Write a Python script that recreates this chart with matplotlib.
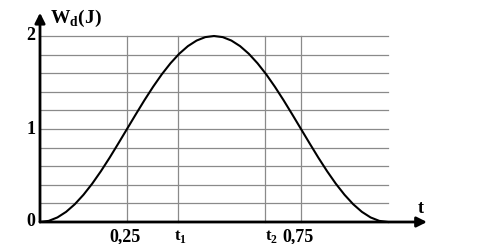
import matplotlib
matplotlib.use("Agg")
import matplotlib.pyplot as plt

plt.rcParams['mathtext.fontset'] = 'custom'
plt.rcParams['mathtext.rm'] = 'Liberation Serif:bold'
plt.rcParams['mathtext.bf'] = 'Liberation Serif:bold'

# Curve values
t_vals = [0.0, 0.025, 0.05, 0.075, 0.1, 0.125, 0.15, 0.175, 0.2, 0.225,
          0.25, 0.275, 0.3, 0.325, 0.35, 0.375, 0.4, 0.425, 0.45, 0.475,
          0.5, 0.525, 0.55, 0.575, 0.6, 0.625, 0.65, 0.675, 0.7, 0.725,
          0.75, 0.775, 0.8, 0.825, 0.85, 0.875, 0.9, 0.925, 0.95, 0.975, 1.0]
w_vals = [0.0, 0.012, 0.049, 0.109, 0.191, 0.293, 0.412, 0.546, 0.691, 0.844,
          1.0, 1.156, 1.309, 1.454, 1.588, 1.707, 1.809, 1.891, 1.951, 1.988,
          2.0, 1.988, 1.951, 1.891, 1.809, 1.707, 1.588, 1.454, 1.309, 1.156,
          1.0, 0.844, 0.691, 0.546, 0.412, 0.293, 0.191, 0.109, 0.049, 0.012, 0.0]

h_grid = [0.2, 0.4, 0.6, 0.8, 1.0, 1.2, 1.4, 1.6, 1.8, 2.0]
v_grid = [0.25, 0.397, 0.647, 0.75]
x_tick_labels = ["0,25", r"t$_\mathbf{1}$", r"t$_\mathbf{2}$", "0,75"]
y_ticks = [0, 1, 2]
y_tick_labels = ["0", "1", "2"]

fig = plt.figure(figsize=(4.82, 2.44), dpi=100)
ax = fig.add_axes([30/482, 9/244, 410/482, 225/244])
ax.set_xlim(-10/348, 400/348)
ax.set_ylim(-13/93, 212/93)
ax.axis('off')

grid_color = '#8a8a8a'
for h in h_grid:
    ax.plot([0, 1.0], [h, h], color=grid_color, lw=0.9, zorder=1)
for v in v_grid:
    ax.plot([v, v], [0, 2.0], color=grid_color, lw=0.9, zorder=1)

ax.plot(t_vals, w_vals, color='black', lw=1.5, zorder=3)

# Axes with arrows
ax.annotate('', xy=(1.112, 0), xytext=(0, 0),
            arrowprops=dict(arrowstyle='-|>,head_length=0.6,head_width=0.3',
                            color='black', lw=2.0, shrinkA=0, shrinkB=0), zorder=4)
ax.annotate('', xy=(0, 2.25), xytext=(0, 0),
            arrowprops=dict(arrowstyle='-|>,head_length=0.6,head_width=0.3',
                            color='black', lw=2.0, shrinkA=0, shrinkB=0), zorder=4)

font = dict(family='Liberation Serif', weight='bold', color='black')

for y, lab in zip(y_ticks, y_tick_labels):
    ax.text(-0.013, y, lab, ha='right', va='center', fontsize=13, **font)

offsets = [-0.007, 0.008, 0.017, -0.008]
sizes = [13, 12, 12, 13]
for v, lab, off, s in zip(v_grid, x_tick_labels, offsets, sizes):
    ax.text(v + off, -0.065, lab, ha='center', va='top', fontsize=s, **font)

ax.text(1.094, 0.15, "t", ha='center', va='center', fontsize=13, **font)
ax.text(0.029, 2.19, r"W$_\mathbf{d}$(J)", ha='left', va='center', fontsize=14, **font)

fig.savefig("out.png", dpi=100)
